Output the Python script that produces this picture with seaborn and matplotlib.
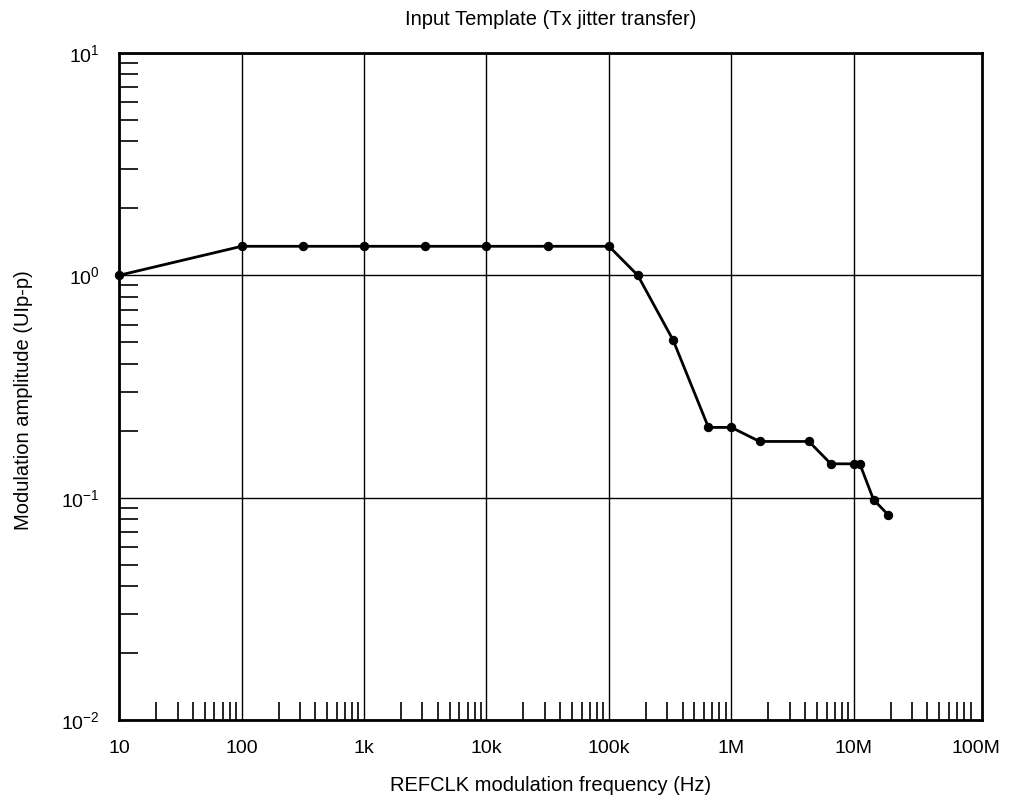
import numpy as np
import pandas as pd
import matplotlib
matplotlib.use("Agg")
import matplotlib.pyplot as plt
import matplotlib.ticker as mticker
import seaborn as sns

freq_hz = [10, 100, 316, 1e3, 3.16e3, 1e4, 3.16e4, 1e5, 1.72e5, 3.35e5,
           6.5e5, 1e6, 1.7e6, 4.3e6, 6.5e6, 1e7, 1.12e7, 1.45e7, 1.9e7]
amp_uipp = [1.0, 1.35, 1.35, 1.35, 1.35, 1.35, 1.35, 1.35, 1.0, 0.51,
            0.207, 0.207, 0.179, 0.179, 0.142, 0.142, 0.142, 0.098, 0.084]

x_ticks = [10, 100, 1e3, 1e4, 1e5, 1e6, 1e7, 1e8]
x_tick_labels = ["10", "100", "1k", "10k", "100k", "1M", "10M", "100M"]
y_ticks = [1e-2, 1e-1, 1, 10]
y_tick_labels = [r"$10^{-2}$", r"$10^{-1}$", r"$10^{0}$", r"$10^{1}$"]

sns.set_style("white")
plt.rcParams["font.family"] = ["Liberation Sans", "DejaVu Sans"]
plt.rcParams["mathtext.fontset"] = "custom"
plt.rcParams["mathtext.rm"] = "Liberation Sans"
plt.rcParams["mathtext.it"] = "Liberation Sans"
plt.rcParams["mathtext.bf"] = "Liberation Sans"
plt.rcParams["text.color"] = "black"
plt.rcParams["axes.labelcolor"] = "black"
plt.rcParams["xtick.color"] = "black"
plt.rcParams["ytick.color"] = "black"

df = pd.DataFrame({"freq": freq_hz, "amp": amp_uipp})

fig = plt.figure(figsize=(10.19, 8.01), dpi=100)
ax = fig.add_axes([0.117, 0.101, 0.847, 0.833])

sns.lineplot(data=df, x="freq", y="amp", ax=ax, color="black", linewidth=2,
             marker="o", markersize=6, markeredgecolor="black", clip_on=False,
             zorder=5)

ax.set_xscale("log")
ax.set_yscale("log")
# the scanned axis runs a little past 100M
ax.set_xlim(10, 10 ** 8.05)
ax.set_ylim(1e-2, 10)

ax.set_xticks(x_ticks)
ax.set_xticklabels(x_tick_labels)
ax.set_yticks(y_ticks)
ax.set_yticklabels(y_tick_labels)
ax.xaxis.set_minor_locator(mticker.LogLocator(base=10, subs=np.arange(2, 10)))
ax.yaxis.set_minor_locator(mticker.LogLocator(base=10, subs=np.arange(2, 10)))
ax.xaxis.set_minor_formatter(mticker.NullFormatter())
ax.yaxis.set_minor_formatter(mticker.NullFormatter())

ax.tick_params(axis="both", which="major", length=0, labelsize=14)
ax.tick_params(axis="x", which="major", pad=14)
ax.tick_params(axis="y", which="major", pad=14)
ax.tick_params(axis="x", which="minor", direction="in", length=13, width=1.2,
               bottom=True, top=False)
ax.tick_params(axis="y", which="minor", direction="in", length=14, width=1.2,
               left=True, right=False)

ax.grid(True, which="major", color="black", linewidth=1.0)
ax.grid(False, which="minor")
# 100M sits on the right frame in the original, no separate grid line there
ax.get_xgridlines()[-1].set_visible(False)
for side in ax.spines.values():
    side.set_color("black")
    side.set_linewidth(2)

ax.set_xlabel("REFCLK modulation frequency (Hz)", fontsize=14.5, labelpad=14)
ax.set_ylabel("Modulation amplitude (UIp-p)", fontsize=14.5)
ax.yaxis.set_label_coords(-0.1, 0.48)
ax.set_title("Input Template (Tx jitter transfer)", fontsize=14.5, pad=20)

fig.savefig("out.png", dpi=100)
